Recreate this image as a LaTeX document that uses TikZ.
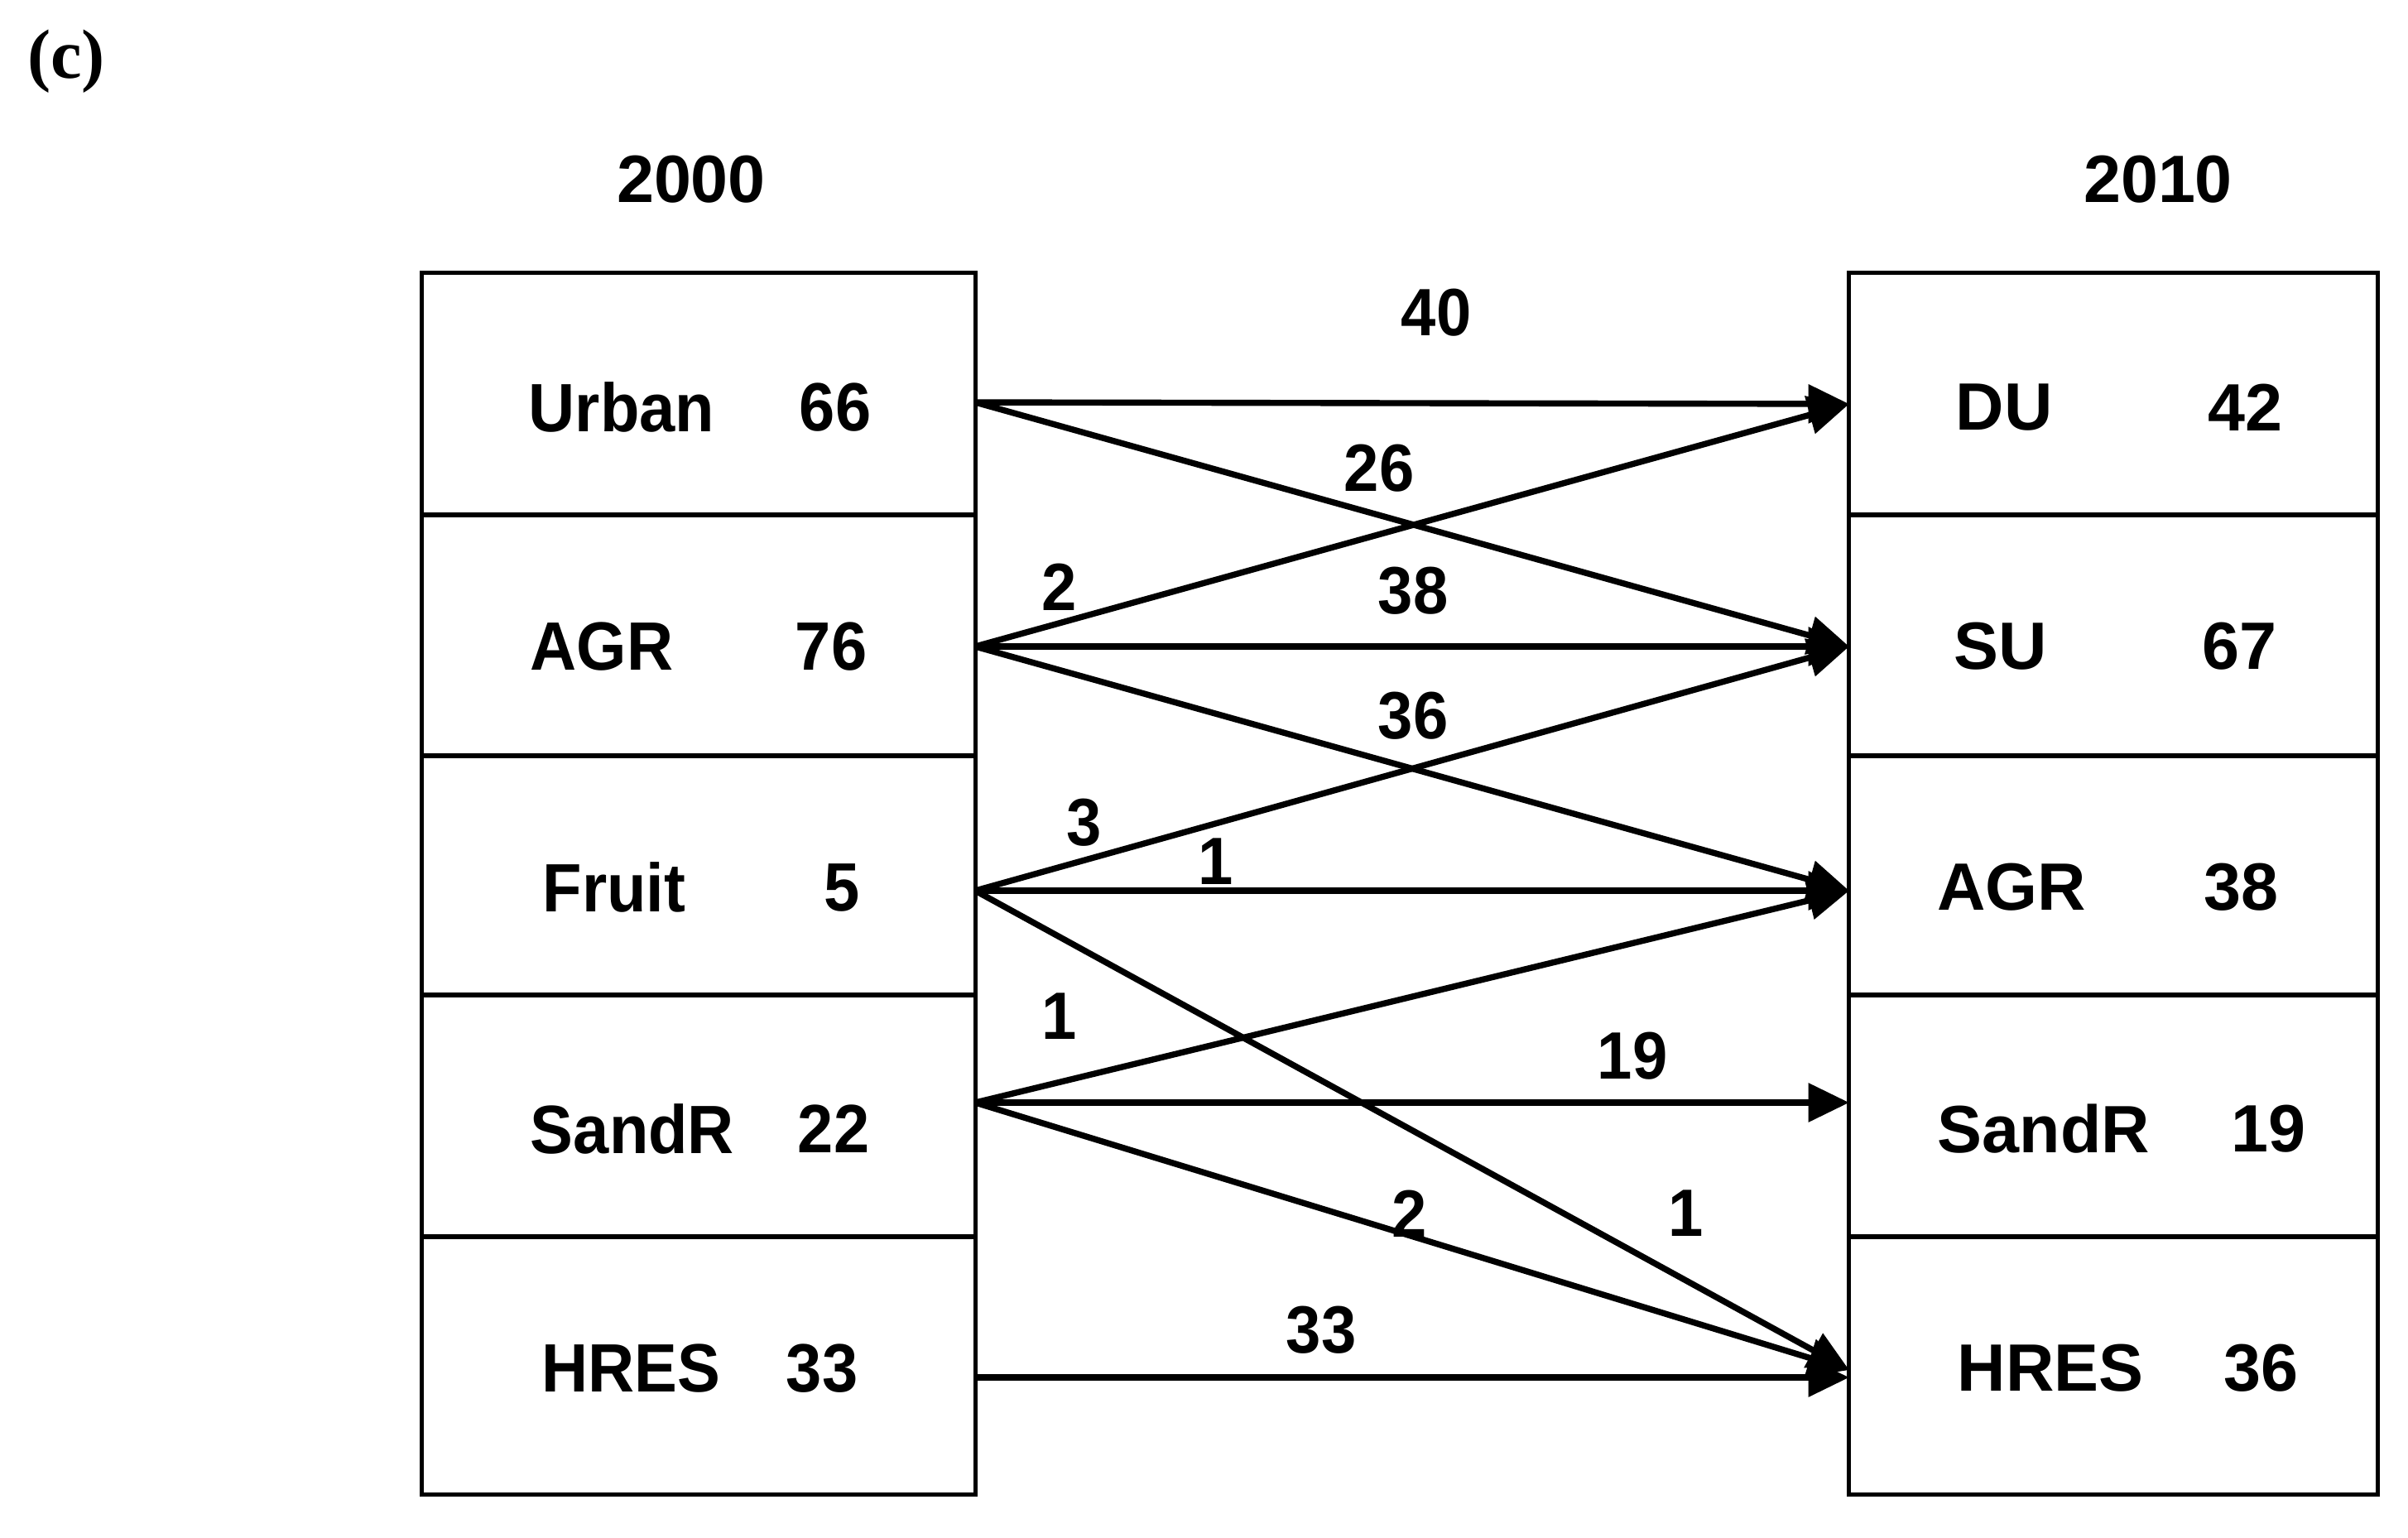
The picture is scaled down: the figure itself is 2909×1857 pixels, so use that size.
\documentclass[tikz,border=0pt]{standalone}
\usepackage{fontspec}
\setmainfont{Liberation Sans}
\newfontfamily\serifbf{Liberation Serif}
\newfontfamily\narrowsans[FakeStretch=0.94]{Liberation Sans}
\usetikzlibrary{arrows.meta}
\begin{document}
\begin{tikzpicture}[x=0.01cm,y=-0.01cm,
  lcell/.style={draw, line width=1.4pt, inner sep=0pt, outer sep=0pt, minimum width=6.68cm},
  rcell/.style={draw, line width=1.4pt, inner sep=0pt, outer sep=0pt, minimum width=6.38cm},
  ltxt/.style={font=\narrowsans\fontsize{23.5}{28}\selectfont\bfseries, inner sep=0pt},
  rtxt/.style={font=\fontsize{23}{28}\selectfont\bfseries, inner sep=0pt},
  lab/.style={font=\narrowsans\fontsize{23}{28}\selectfont\bfseries, inner sep=0pt},
  flow/.style={line width=2.1pt, -{Triangle[length=14pt,width=13pt]}}
]
\useasboundingbox (0,0) rectangle (2909,1857);
\fill[white] (0,0) rectangle (2909,1857);

% panel tag and titles
\node[font=\serifbf\fontsize{24}{28}\selectfont\bfseries, inner sep=0pt] (tag) at (80,74) {(c)};
\node[rtxt] (t2000) at (835,217) {2000};
\node[rtxt] (t2010) at (2607,217) {2010};

% left cells
\node[lcell, minimum height=2.92cm] (L1) at (844,476) {};
\node[lcell, minimum height=2.91cm] (L2) at (844,767.5) {};
\node[lcell, minimum height=2.89cm] (L3) at (844,1057.5) {};
\node[lcell, minimum height=2.92cm] (L4) at (844,1348) {};
\node[lcell, minimum height=3.11cm] (L5) at (844,1649.5) {};

% right cells
\node[rcell, minimum height=2.92cm] (R1) at (2553,476) {};
\node[rcell, minimum height=2.91cm] (R2) at (2553,767.5) {};
\node[rcell, minimum height=2.89cm] (R3) at (2553,1057.5) {};
\node[rcell, minimum height=2.92cm] (R4) at (2553,1348) {};
\node[rcell, minimum height=3.11cm] (R5) at (2553,1649.5) {};

% left texts
\node[ltxt] (Ln1) at (751,492) {Urban};  \node[ltxt] (Lv1) at (1009,492) {66};
\node[ltxt] (Ln2) at (727,781) {AGR};    \node[ltxt] (Lv2) at (1004,781) {76};
\node[ltxt] (Ln3) at (742,1072) {Fruit}; \node[ltxt] (Lv3) at (1017,1072) {5};
\node[ltxt] (Ln4) at (764,1364) {SandR}; \node[ltxt] (Lv4) at (1007,1364) {22};
\node[ltxt] (Ln5) at (762,1653) {HRES};  \node[ltxt] (Lv5) at (993,1653) {33};

% right texts
\node[rtxt] (Rn1) at (2421,492) {DU};    \node[rtxt] (Rv1) at (2712,492) {42};
\node[rtxt] (Rn2) at (2417,781) {SU};    \node[rtxt] (Rv2) at (2705,781) {67};
\node[rtxt] (Rn3) at (2430,1072) {AGR};  \node[rtxt] (Rv3) at (2707,1072) {38};
\node[rtxt] (Rn4) at (2469,1364) {SandR};\node[rtxt] (Rv4) at (2740,1364) {19};
\node[rtxt] (Rn5) at (2477,1653) {HRES}; \node[rtxt] (Rv5) at (2731,1653) {36};

% connector end points on the cell borders
\coordinate (s1) at ([yshift=-0.10cm]L1.east);
\coordinate (s2) at ([yshift=-0.135cm]L2.east);
\coordinate (s3) at ([yshift=-0.185cm]L3.east);
\coordinate (s4) at ([yshift=0.16cm]L4.east);
\coordinate (s5) at ([yshift=-0.145cm]L5.east);
\coordinate (e1) at ([yshift=-0.12cm]R1.west);
\coordinate (e2) at ([yshift=-0.135cm]R2.west);
\coordinate (e3) at ([yshift=-0.185cm]R3.west);
\coordinate (e4) at ([yshift=0.16cm]R4.west);
\coordinate (e5) at ([yshift=-0.055cm]R5.west);
\coordinate (e5h) at ([yshift=-0.145cm]R5.west);

% flows
\draw[flow] (s1) -- (e1);
\draw[flow] (s1) -- (e2);
\draw[flow] (s2) -- (e1);
\draw[flow] (s2) -- (e2);
\draw[flow] (s2) -- (e3);
\draw[flow] (s3) -- (e2);
\draw[flow] (s3) -- (e3);
\draw[flow] (s3) -- (e5);
\draw[flow] (s4) -- (e3);
\draw[flow] (s4) -- (e4);
\draw[flow] (s4) -- (e5);
\draw[flow] (s5) -- (e5h);

% flow labels
\node[lab] (f40) at (1735,378) {40};
\node[lab] (f26) at (1666,566) {26};
\node[lab] (f2a) at (1280,709) {2};
\node[lab] (f38) at (1707,714) {38};
\node[lab] (f36) at (1707,865) {36};
\node[lab] (f3) at (1310,994) {3};
\node[lab] (f1a) at (1469,1041) {1};
\node[lab] (f1b) at (1280,1228) {1};
\node[lab] (f19) at (1972,1276) {19};
\node[lab] (f2b) at (1703,1466) {2};
\node[lab] (f1c) at (2037,1466) {1};
\node[lab] (f33) at (1596,1607) {33};
\end{tikzpicture}
\end{document}
